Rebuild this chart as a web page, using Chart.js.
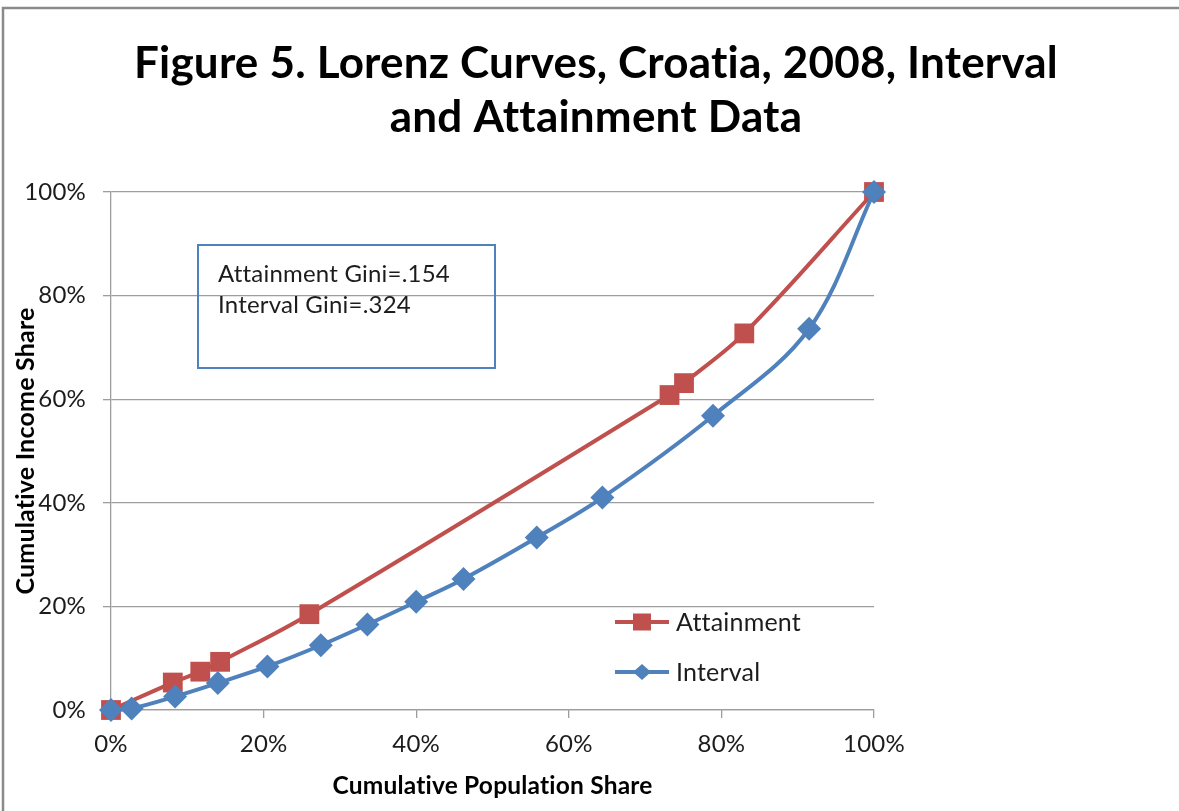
<!DOCTYPE html>
<html>
<head>
<meta charset="utf-8">
<script src="https://cdn.jsdelivr.net/npm/chart.js@4/dist/chart.umd.min.js"></script>
<style>
  html, body { margin: 0; padding: 0; background: #ffffff; }
  #wrap { width: 1179px; height: 811px; position: relative; }
</style>
</head>
<body>
<div id="wrap"><canvas id="lorenz" width="1179" height="811"></canvas></div>
<script>
// Lorenz curve points: cumulative population share (%) vs cumulative income share (%)
const attainmentPop    = [0, 8.1, 11.7, 14.3, 26.0, 73.2, 75.1, 83.0, 100];
const attainmentIncome = [0, 5.3, 7.4, 9.3, 18.5, 60.8, 63.1, 72.7, 100];

const intervalPop    = [0, 2.7, 8.4, 14.0, 20.5, 27.5, 33.6, 40.0, 46.2, 55.8, 64.4, 78.9, 91.5, 100];
const intervalIncome = [0, 0.3, 2.6, 5.2, 8.4, 12.5, 16.5, 20.9, 25.3, 33.3, 41.0, 56.8, 73.6, 100];

const seriesNames = ['Attainment', 'Interval'];
const tickValues = [0, 20, 40, 60, 80, 100];
const tickLabels = ['0%', '20%', '40%', '60%', '80%', '100%'];

const titleLines = ['Figure 5. Lorenz Curves, Croatia, 2008, Interval', 'and Attainment Data'];
const xTitle = 'Cumulative Population Share';
const yTitle = 'Cumulative Income Share';
const giniNotes = ['Attainment Gini=.154', 'Interval Gini=.324'];

const RED = '#C0504D';
const BLUE = '#4F81BD';
const GRID = '#9d9d9d';
const TEXT = '#1c1c1c';
const FONT = 'Lato';

const toPoints = (xs, ys) => xs.map((x, i) => ({ x: x, y: ys[i] }));

function tickLabel(value) {
  const i = tickValues.indexOf(value);
  return i >= 0 ? tickLabels[i] : '';
}

// A tiny letter spacing keeps the canvas from joining "ti" into a ligature
function noLigatures(chart) {
  if ('letterSpacing' in chart.ctx) chart.ctx.letterSpacing = '0.2px';
}

// Outer frame of the chart object (top and left edges) and the two-line heading
const framePlugin = {
  id: 'frame',
  beforeLayout(chart) { noLigatures(chart); },
  beforeDraw(chart) {
    noLigatures(chart);
    const ctx = chart.ctx;
    ctx.save();
    ctx.strokeStyle = '#8a8a8a';
    ctx.lineWidth = 2.5;
    ctx.beginPath();
    ctx.moveTo(3, 811);
    ctx.lineTo(3, 8);
    ctx.lineTo(1179, 8);
    ctx.stroke();

    ctx.fillStyle = '#000000';
    ctx.font = 'bold 44px ' + FONT;
    ctx.textAlign = 'center';
    ctx.textBaseline = 'alphabetic';
    ctx.fillText(titleLines[0], 596, 78);
    ctx.fillText(titleLines[1], 596, 132);
    ctx.restore();
  }
};

// Gini text box and in-plot legend
const notesPlugin = {
  id: 'notes',
  afterDraw(chart) {
    const ctx = chart.ctx;
    ctx.save();
    ctx.strokeStyle = BLUE;
    ctx.lineWidth = 2;
    ctx.strokeRect(198, 245, 297, 123);
    ctx.fillStyle = TEXT;
    ctx.font = '24px ' + FONT;
    ctx.textBaseline = 'alphabetic';
    ctx.textAlign = 'left';
    ctx.fillText(giniNotes[0], 218, 282);
    ctx.fillText(giniNotes[1], 218, 313);

    const entries = [
      { name: seriesNames[0], color: RED, y: 622, shape: 'square' },
      { name: seriesNames[1], color: BLUE, y: 672, shape: 'diamond' }
    ];
    entries.forEach(e => {
      ctx.strokeStyle = e.color;
      ctx.lineWidth = 4;
      ctx.lineCap = 'butt';
      ctx.beginPath();
      ctx.moveTo(615, e.y);
      ctx.lineTo(669, e.y);
      ctx.stroke();
      ctx.fillStyle = e.color;
      const cx = 642;
      if (e.shape === 'square') {
        ctx.fillRect(cx - 9, e.y - 8.5, 18, 17);
      } else {
        ctx.beginPath();
        ctx.moveTo(cx, e.y - 8);
        ctx.lineTo(cx + 9, e.y);
        ctx.lineTo(cx, e.y + 8);
        ctx.lineTo(cx - 9, e.y);
        ctx.closePath();
        ctx.fill();
      }
      ctx.fillStyle = TEXT;
      ctx.font = '25px ' + FONT;
      ctx.textBaseline = 'alphabetic';
      ctx.fillText(e.name, 676, e.y + 9);
    });
    ctx.restore();
  }
};

Chart.defaults.font.family = FONT;
Chart.defaults.color = TEXT;

new Chart(document.getElementById('lorenz'), {
  type: 'scatter',
  data: {
    datasets: [
      {
        label: seriesNames[0],
        data: toPoints(attainmentPop, attainmentIncome),
        showLine: true,
        clip: false,
        borderColor: RED,
        backgroundColor: RED,
        borderWidth: 4,
        pointStyle: 'rect',
        pointRadius: 14,
        pointBorderWidth: 0,
        pointBackgroundColor: RED,
        tension: 0.35,
        order: 1
      },
      {
        label: seriesNames[1],
        data: toPoints(intervalPop, intervalIncome),
        showLine: true,
        clip: false,
        borderColor: BLUE,
        backgroundColor: BLUE,
        borderWidth: 4,
        pointStyle: 'rectRot',
        pointRadius: 12,
        pointBorderWidth: 0,
        pointBackgroundColor: BLUE,
        tension: 0.35,
        order: 0
      }
    ]
  },
  options: {
    responsive: false,
    animation: false,
    devicePixelRatio: 1,
    layout: { padding: { left: 0, right: 305, top: 192, bottom: 0 } },
    plugins: {
      legend: { display: false },
      tooltip: { enabled: false },
      title: { display: false }
    },
    scales: {
      x: {
        type: 'linear',
        min: 0,
        max: 100,
        afterBuildTicks(scale) { scale.ticks = tickValues.map(v => ({ value: v })); },
        afterFit(scale) { scale.height = 101; },
        ticks: {
          callback: v => tickLabel(v),
          font: { size: 24 },
          color: TEXT,
          padding: 12,
          maxRotation: 0
        },
        grid: {
          drawOnChartArea: false,
          drawTicks: true,
          tickLength: 8,
          color: GRID,
          lineWidth: 1.3
        },
        border: { display: true, color: GRID, width: 1.3 },
        title: {
          display: true,
          text: xTitle,
          color: '#000000',
          font: { size: 24.5, weight: 'bold' },
          padding: { top: 10, bottom: 10 }
        }
      },
      y: {
        type: 'linear',
        min: 0,
        max: 100,
        afterBuildTicks(scale) { scale.ticks = tickValues.map(v => ({ value: v })); },
        afterFit(scale) { scale.width = 111; },
        ticks: {
          callback: v => tickLabel(v),
          font: { size: 24 },
          color: TEXT,
          padding: 17
        },
        grid: {
          drawOnChartArea: true,
          drawTicks: true,
          tickLength: 8,
          color: GRID,
          lineWidth: 1.3
        },
        border: { display: true, color: GRID, width: 1.3 },
        title: {
          display: true,
          text: yTitle,
          color: '#000000',
          font: { size: 25, weight: 'bold' },
          padding: { top: 11, bottom: 11 }
        }
      }
    }
  },
  plugins: [framePlugin, notesPlugin]
});
</script>
</body>
</html>
